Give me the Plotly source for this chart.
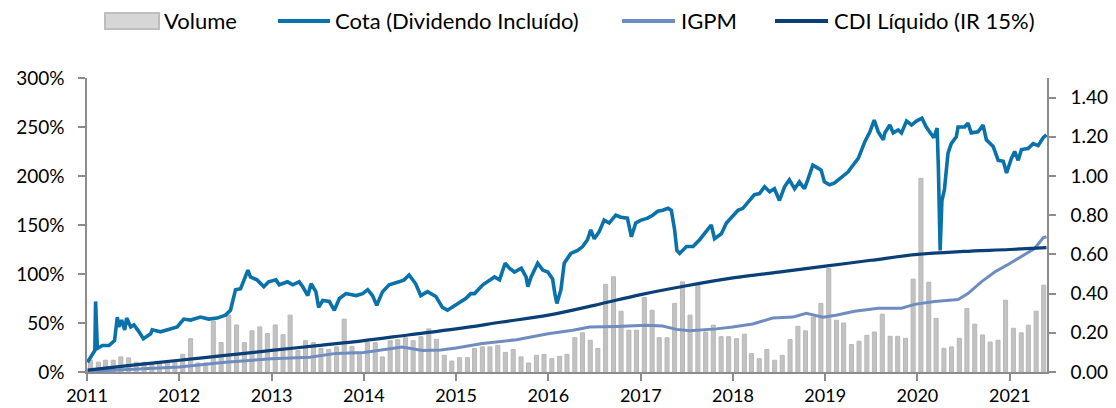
import plotly.graph_objects as go
import pandas as pd

# ---- Data -----------------------------------------------------------
# Monthly volume (right axis), Jan 2011 .. May 2021
volume = [0.06, 0.05, 0.06, 0.06, 0.077, 0.072, 0.05, 0.05, 0.045, 0.05, 0.05, 0.06,
          0.09, 0.17, 0.046, 0.046, 0.26, 0.15, 0.29, 0.24, 0.15, 0.21, 0.23, 0.196,
          0.24, 0.19, 0.29, 0.11, 0.16, 0.15, 0.12, 0.115, 0.128, 0.27, 0.13, 0.094,
          0.15, 0.15, 0.077, 0.16, 0.165, 0.175, 0.16, 0.18, 0.22, 0.167, 0.085, 0.056,
          0.073, 0.073, 0.12, 0.128, 0.128, 0.136, 0.10, 0.115, 0.077, 0.046, 0.085, 0.09,
          0.068, 0.08, 0.09, 0.175, 0.20, 0.162, 0.12, 0.447, 0.486, 0.31, 0.213, 0.213,
          0.38, 0.315, 0.175, 0.175, 0.35, 0.46, 0.29, 0.443, 0.204, 0.239, 0.18, 0.18,
          0.17, 0.193, 0.094, 0.068, 0.115, 0.06, 0.085, 0.165, 0.233, 0.21, 0.28, 0.35,
          0.528, 0.264, 0.25, 0.14, 0.157, 0.187, 0.204, 0.295, 0.182, 0.182, 0.172, 0.474,
          0.988, 0.458, 0.274, 0.121, 0.128, 0.172, 0.324, 0.244, 0.189, 0.153, 0.162, 0.366,
          0.223, 0.2, 0.239, 0.31, 0.443]
volume_months = [d + pd.Timedelta(days=14) for d in
                 pd.date_range("2011-01-01", periods=len(volume), freq="MS")]

cota_dates = ["2011-01-03", "2011-01-22", "2011-02-01", "2011-02-04", "2011-02-11", "2011-03-03",
              "2011-03-29", "2011-04-20", "2011-05-01", "2011-05-07", "2011-05-18", "2011-05-30",
              "2011-06-07", "2011-06-23", "2011-07-06", "2011-07-26", "2011-08-12", "2011-09-10",
              "2011-09-16", "2011-10-19", "2011-11-28", "2011-12-24", "2012-01-19", "2012-02-15",
              "2012-03-25", "2012-04-27", "2012-05-30", "2012-07-02", "2012-07-22", "2012-08-11",
              "2012-08-31", "2012-09-13", "2012-09-29", "2012-10-09", "2012-10-22", "2012-11-04",
              "2012-12-01", "2012-12-20", "2013-01-18", "2013-01-31", "2013-03-05", "2013-03-25",
              "2013-04-20", "2013-05-04", "2013-05-24", "2013-06-06", "2013-06-25", "2013-07-06",
              "2013-07-22", "2013-08-17", "2013-09-06", "2013-09-26", "2013-10-22", "2013-12-01",
              "2013-12-27", "2014-01-16", "2014-02-04", "2014-02-21", "2014-03-16", "2014-04-11",
              "2014-05-20", "2014-06-09", "2014-06-29", "2014-07-12", "2014-07-25", "2014-08-14",
              "2014-09-10", "2014-10-13", "2014-11-08", "2014-11-28", "2014-12-17", "2015-01-13",
              "2015-02-08", "2015-02-28", "2015-03-15", "2015-04-17", "2015-05-06", "2015-06-02",
              "2015-06-22", "2015-07-14", "2015-07-31", "2015-08-20", "2015-09-16", "2015-10-05",
              "2015-10-12", "2015-10-25", "2015-11-20", "2015-12-10", "2015-12-30", "2016-01-18",
              "2016-01-27", "2016-02-04", "2016-02-20", "2016-03-04", "2016-03-30", "2016-04-26",
              "2016-05-16", "2016-06-04", "2016-06-17", "2016-07-01", "2016-07-20", "2016-08-09",
              "2016-08-29", "2016-09-24", "2016-10-14", "2016-11-09", "2016-11-25", "2016-12-12",
              "2017-01-02", "2017-01-28", "2017-02-17", "2017-03-09", "2017-03-29", "2017-04-19",
              "2017-05-02", "2017-05-15", "2017-05-24", "2017-06-04", "2017-07-01", "2017-07-27",
              "2017-08-22", "2017-09-11", "2017-10-07", "2017-10-20", "2017-11-16", "2017-12-06",
              "2017-12-26", "2018-01-21", "2018-02-09", "2018-03-08", "2018-03-27", "2018-04-16",
              "2018-05-06", "2018-05-26", "2018-06-14", "2018-07-04", "2018-07-24", "2018-08-12",
              "2018-09-02", "2018-09-21", "2018-10-11", "2018-10-24", "2018-11-13", "2018-12-03",
              "2018-12-16", "2018-12-29", "2019-01-18", "2019-02-07", "2019-03-05", "2019-04-01",
              "2019-04-27", "2019-05-12", "2019-06-07", "2019-06-27", "2019-07-14", "2019-07-30",
              "2019-08-19", "2019-08-25", "2019-09-14", "2019-09-27", "2019-10-17", "2019-10-30",
              "2019-11-19", "2019-12-09", "2019-12-28", "2020-01-19", "2020-02-05", "2020-02-25",
              "2020-03-06", "2020-03-19", "2020-03-24", "2020-03-31", "2020-04-07", "2020-04-17",
              "2020-05-01", "2020-05-14", "2020-06-03", "2020-06-10", "2020-07-06", "2020-07-19",
              "2020-08-01", "2020-08-28", "2020-09-17", "2020-09-30", "2020-10-27", "2020-11-16",
              "2020-12-06", "2020-12-19", "2021-01-07", "2021-01-20", "2021-02-03", "2021-02-16",
              "2021-03-14", "2021-04-03", "2021-04-23", "2021-05-13", "2021-05-26"]
cota_pct = [10, 17, 22, 72, 24, 27, 27, 32, 56, 46, 53, 43,
            55, 46, 48, 41, 34, 39, 43, 41, 44, 46, 54, 53,
            56, 54, 55, 58, 63, 84, 85, 94, 104, 97, 95, 94,
            87, 92, 94, 89, 92, 89, 92, 87, 78, 90, 82, 66,
            73, 72, 63, 75, 80, 78, 80, 84, 78, 68, 82, 89,
            92, 94, 99, 95, 90, 78, 82, 77, 66, 63, 66, 70,
            75, 80, 80, 89, 92, 97, 94, 111, 106, 102, 106, 97,
            87, 97, 111, 104, 102, 95, 80, 70, 84, 111, 121, 124,
            128, 135, 145, 136, 143, 155, 152, 160, 158, 157, 138, 152,
            155, 157, 160, 164, 165, 167, 165, 145, 124, 121, 128, 128,
            135, 141, 150, 136, 141, 152, 158, 165, 167, 175, 181, 182,
            189, 184, 187, 175, 189, 196, 187, 194, 187, 196, 211, 208,
            206, 194, 191, 193, 199, 204, 213, 218, 235, 245, 257, 245,
            237, 244, 252, 244, 247, 244, 256, 252, 256, 259, 250, 242,
            239, 249, 209, 124, 175, 186, 223, 233, 240, 250, 250, 254,
            244, 245, 252, 237, 230, 216, 215, 203, 218, 225, 216, 227,
            228, 233, 231, 239, 242]

igpm_dates = ["2011-01-03", "2011-07-01", "2012-01-01", "2012-07-01", "2013-01-01", "2013-06-01",
              "2013-09-12", "2014-01-01", "2014-04-24", "2014-06-01", "2014-08-21", "2014-11-01",
              "2015-01-01", "2015-04-15", "2015-08-28", "2015-12-31", "2016-04-07", "2016-06-13",
              "2016-09-26", "2017-01-23", "2017-03-28", "2017-05-22", "2017-07-13", "2017-10-27",
              "2017-12-30", "2018-03-20", "2018-06-07", "2018-08-26", "2018-10-18", "2018-12-23",
              "2019-02-13", "2019-04-27", "2019-07-30", "2019-10-30", "2019-12-21", "2020-03-09",
              "2020-06-10", "2020-07-19", "2020-09-10", "2020-11-02", "2020-12-20", "2021-02-16",
              "2021-04-09", "2021-05-13", "2021-05-26"]
igpm_pct = [0.5, 2.5, 5, 10, 13.5, 15,
            19, 20, 24.5, 25.5, 22, 22.5,
            24.5, 29, 33, 39, 42.6, 46,
            46.5, 47.7, 47, 43.5, 42, 44,
            46, 49, 55, 56, 60, 56,
            58, 62, 65, 65, 69, 72,
            74, 80, 92, 102, 109, 118,
            126, 137, 138]

cdi_dates = ["2011-01-03", "2011-07-01", "2012-01-01", "2012-07-01", "2013-01-01", "2013-07-01",
             "2014-01-01", "2014-07-01", "2015-01-01", "2015-07-01", "2016-01-01", "2016-07-01",
             "2017-01-01", "2017-07-01", "2018-01-01", "2018-07-01", "2019-01-01", "2019-07-01",
             "2020-01-01", "2020-07-01", "2021-01-01", "2021-05-26"]
cdi_pct = [2, 7, 12, 17, 22, 27,
           32, 38, 44, 51, 58, 68,
           79, 88, 96, 102, 108, 114,
           120, 123, 125, 127]

vol_ticks = [0.0, 0.2, 0.4, 0.6, 0.8, 1.0, 1.2, 1.4]
pct_ticks = [0, 50, 100, 150, 200, 250, 300]
pct_labels = [f"{v}%" for v in pct_ticks]

series_names = ["Volume", "Cota (Dividendo Incluído)", "IGPM", "CDI Líquido (IR 15%)"]

# ---- Styling ---------------------------------------------------------
FONT = "Lato"
AX = "#8c8c8c"
C_VOL = "#c2c2c2"
C_COTA = "#0a72aa"
C_IGPM = "#6f8cc0"
C_CDI = "#0b3f78"

fig = go.Figure()
fig.add_trace(go.Bar(x=volume_months, y=volume, name=series_names[0], yaxis="y",
                     width=16 * 86400000,
                     marker=dict(color=C_VOL, line=dict(color="#b8b8b8", width=1))))
fig.add_trace(go.Scatter(x=cota_dates, y=cota_pct, name=series_names[1], yaxis="y2",
                         mode="lines", line=dict(color=C_COTA, width=3.6)))
fig.add_trace(go.Scatter(x=igpm_dates, y=igpm_pct, name=series_names[2], yaxis="y2",
                         mode="lines", line=dict(color=C_IGPM, width=3)))
fig.add_trace(go.Scatter(x=cdi_dates, y=cdi_pct, name=series_names[3], yaxis="y2",
                         mode="lines", line=dict(color=C_CDI, width=3.2, shape="spline")))

axis_common = dict(showline=True, linecolor=AX, linewidth=1.5, ticks="outside",
                   ticklen=7, tickcolor=AX, tickwidth=1.5, showgrid=False, zeroline=False,
                   automargin=False,
                   tickfont=dict(family=FONT, size=19, color="#000"))

# ---- Legend drawn in paper coordinates (top, one row) ---------------
L, R, T, B, W, H = 87, 69, 78, 36, 1116, 408
pw, ph = W - L - R, H - T - B
def px(x): return (x - L) / pw
def py(y): return (H - B - y) / ph

legend_y = 21
swatches = [(105, 159, 163), (278, 330, 334), (622, 675, 680), (775, 828, 833)]
shapes, annotations = [], []
for i, (s0, s1, tx) in enumerate(swatches):
    if i == 0:
        shapes.append(dict(type="rect", xref="paper", yref="paper",
                           x0=px(s0), x1=px(s1), y0=py(legend_y + 8), y1=py(legend_y - 8),
                           fillcolor="#d6d6d6", line=dict(color="#bdbdbd", width=2)))
    else:
        col = [C_COTA, C_IGPM, C_CDI][i - 1]
        shapes.append(dict(type="line", xref="paper", yref="paper",
                           x0=px(s0), x1=px(s1), y0=py(legend_y), y1=py(legend_y),
                           line=dict(color=col, width=4)))
    annotations.append(dict(xref="paper", yref="paper", x=px(tx), y=py(legend_y),
                            xanchor="left", yanchor="middle", showarrow=False,
                            text=series_names[i], borderpad=0,
                            font=dict(family=FONT, size=22, color="#000")))

xaxis_style = dict(axis_common)
xaxis_style["tickfont"] = dict(family=FONT, size=18, color="#000")

fig.update_layout(
    width=W, height=H,
    margin=dict(l=L, r=R, t=T, b=B, autoexpand=False),
    paper_bgcolor="white", plot_bgcolor="white",
    showlegend=False,
    shapes=shapes, annotations=annotations,
    xaxis=dict(type="date", range=["2011-01-01", "2021-05-28"], dtick="M12",
               tick0="2011-01-01", tickformat="%Y", ticklabelstandoff=0, **xaxis_style),
    yaxis=dict(side="right", range=[0, 1.5], tickvals=vol_ticks, tickformat=".2f",
               ticklabelstandoff=11, **axis_common),
    yaxis2=dict(side="left", overlaying="y", range=[0, 300], tickvals=pct_ticks,
                ticktext=pct_labels, ticklabelstandoff=10, **axis_common),
)

fig.write_html("out.html")
